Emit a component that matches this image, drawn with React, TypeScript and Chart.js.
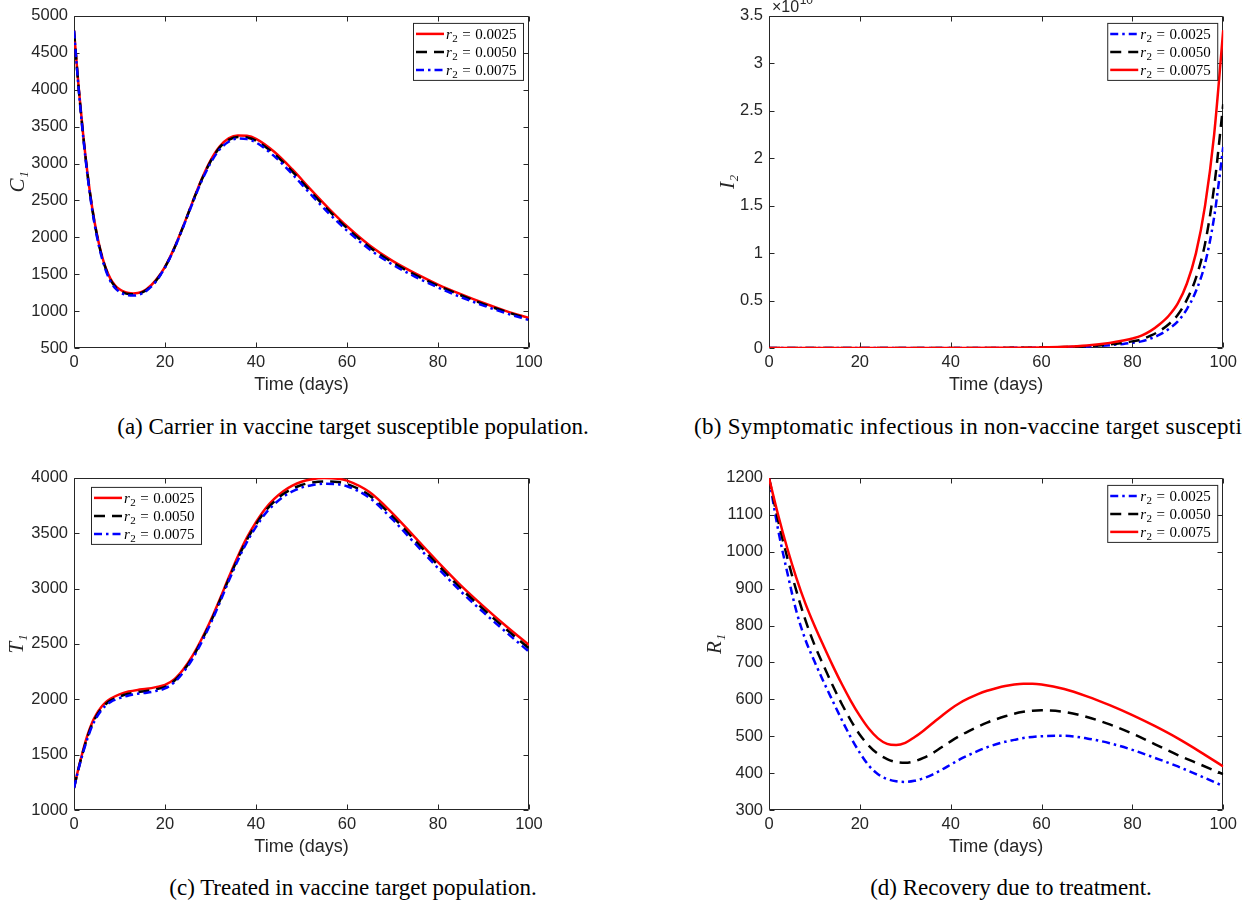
import React, { useEffect, useRef } from 'react';
import { Chart, registerables } from 'chart.js';

Chart.register(...registerables);

// ---------------- DATA ----------------
const R2_LABELS_ASC = ['r₂ = 0.0025', 'r₂ = 0.0050', 'r₂ = 0.0075'];

// (a) Carrier C1
const TIME_A = [0, 1, 2, 3, 4, 5, 6, 7, 8, 9, 10, 11, 12, 13, 14, 15, 16, 18, 20, 22, 24, 26, 28, 30, 32, 34, 36, 38, 40, 44, 48, 52, 56, 60, 65, 70, 75, 80, 85, 90, 95, 100];
const C1_R0025 = [4800, 4050, 3400, 2850, 2400, 2050, 1780, 1580, 1440, 1350, 1295, 1262, 1245, 1240, 1245, 1265, 1300, 1420, 1600, 1850, 2150, 2470, 2780, 3040, 3230, 3340, 3380, 3375, 3335, 3160, 2920, 2650, 2390, 2150, 1890, 1680, 1510, 1360, 1230, 1110, 1000, 905];
const C1_R0050 = [4800, 4040, 3390, 2840, 2390, 2040, 1770, 1570, 1425, 1335, 1280, 1248, 1232, 1228, 1233, 1253, 1290, 1410, 1595, 1845, 2145, 2465, 2770, 3025, 3215, 3320, 3360, 3352, 3310, 3130, 2890, 2620, 2360, 2125, 1865, 1660, 1490, 1345, 1215, 1095, 990, 893];
const C1_R0075 = [4800, 4030, 3370, 2820, 2370, 2020, 1750, 1550, 1405, 1315, 1260, 1228, 1213, 1210, 1217, 1240, 1278, 1400, 1590, 1840, 2140, 2455, 2755, 3005, 3190, 3295, 3338, 3330, 3285, 3100, 2855, 2585, 2325, 2090, 1835, 1630, 1465, 1320, 1190, 1075, 970, 878];
const TICKS_A = { min: 500, max: 5000, step: 500 };

// (b) Symptomatic infectious I2 (in units of 1e10)
const TIME_B = [0, 10, 20, 30, 40, 50, 55, 60, 65, 70, 75, 78, 80, 82, 84, 86, 88, 90, 92, 94, 96, 98, 100];
const I2_R0025 = [0, 0, 0, 0, 0, 0.001, 0.002, 0.004, 0.008, 0.016, 0.03, 0.043, 0.055, 0.07, 0.1, 0.14, 0.2, 0.28, 0.41, 0.6, 0.89, 1.38, 2.12];
const I2_R0050 = [0, 0, 0, 0, 0, 0.001, 0.002, 0.005, 0.01, 0.02, 0.038, 0.055, 0.07, 0.09, 0.13, 0.18, 0.25, 0.35, 0.51, 0.74, 1.1, 1.7, 2.57];
const I2_R0075 = [0, 0, 0, 0, 0.001, 0.002, 0.003, 0.006, 0.013, 0.027, 0.053, 0.078, 0.1, 0.13, 0.18, 0.25, 0.34, 0.47, 0.68, 1.0, 1.5, 2.25, 3.35];
const TICKS_B = { min: 0, max: 3.5, step: 0.5 };
const EXPONENT_B = '10';

// (c) Treated T1
const TIME_C = [0, 1, 2, 3, 4, 5, 6, 7, 8, 10, 12, 14, 16, 18, 20, 22, 24, 26, 28, 30, 32, 34, 36, 38, 40, 42, 44, 46, 48, 50, 52, 55, 58, 60, 65, 70, 75, 80, 85, 90, 95, 100];
const T1_R0025 = [1200, 1380, 1540, 1680, 1790, 1870, 1930, 1975, 2005, 2045, 2070, 2085, 2095, 2110, 2130, 2180, 2270, 2390, 2540, 2710, 2900, 3100, 3290, 3460, 3600, 3720, 3810, 3880, 3930, 3965, 3985, 3998, 3992, 3975, 3870, 3680, 3460, 3240, 3030, 2840, 2660, 2490];
const T1_R0050 = [1200, 1375, 1530, 1665, 1775, 1855, 1915, 1958, 1988, 2025, 2050, 2065, 2075, 2090, 2112, 2165, 2255, 2375, 2525, 2695, 2885, 3085, 3272, 3440, 3580, 3698, 3786, 3854, 3902, 3936, 3956, 3968, 3962, 3945, 3840, 3650, 3432, 3212, 3002, 2812, 2632, 2460];
const T1_R0075 = [1200, 1370, 1520, 1650, 1760, 1840, 1900, 1945, 1975, 2010, 2035, 2050, 2060, 2075, 2098, 2152, 2242, 2362, 2512, 2682, 2870, 3068, 3254, 3420, 3558, 3675, 3762, 3830, 3878, 3912, 3932, 3948, 3942, 3925, 3818, 3625, 3405, 3185, 2975, 2785, 2605, 2430];
const TICKS_C = { min: 1000, max: 4000, step: 500 };

// (d) Recovery R1
const TIME_D = [0, 2, 4, 6, 8, 10, 12, 14, 16, 18, 20, 22, 24, 26, 28, 30, 32, 34, 36, 38, 40, 42, 44, 46, 48, 50, 52, 54, 56, 58, 60, 65, 70, 75, 80, 85, 90, 95, 100];
const R1_R0025 = [1200, 1060, 945, 840, 762, 703, 648, 596, 545, 497, 455, 420, 397, 384, 378, 376, 379, 386, 396, 409, 423, 437, 449, 460, 470, 478, 485, 490, 495, 498, 500, 501, 494, 481, 463, 441, 418, 392, 365];
const R1_R0050 = [1200, 1085, 985, 895, 815, 748, 692, 638, 588, 543, 504, 474, 452, 438, 430, 428, 432, 441, 454, 470, 486, 501, 514, 526, 537, 546, 554, 561, 566, 569, 570, 566, 552, 532, 507, 478, 449, 423, 397];
const R1_R0075 = [1200, 1100, 1010, 930, 860, 800, 745, 692, 642, 596, 555, 520, 494, 479, 476, 482, 497, 515, 535, 555, 574, 590, 603, 614, 623, 630, 636, 640, 642, 642, 640, 628, 608, 584, 557, 527, 494, 457, 418];
const TICKS_D = { min: 300, max: 1200, step: 100 };

const X_TICKS = { min: 0, max: 100, step: 20 };

const CAPTION_A = '(a) Carrier in vaccine target susceptible population.';
const CAPTION_B = '(b) Symptomatic infectious in non-vaccine target susceptible population.';
const CAPTION_C = '(c) Treated in vaccine target population.';
const CAPTION_D = '(d) Recovery due to treatment.';
const X_TITLE = 'Time (days)';

// ---------------- STYLE ----------------
const AXIS_COLOR = '#262626';
const SANS = "'Liberation Sans', Arial, Helvetica, sans-serif";
const SERIF = "'Liberation Serif', 'Times New Roman', 'DejaVu Serif', serif";
const PANEL_H = 405;

const STYLE_RED = { borderColor: '#ff0000', borderDash: [] as number[] };
const STYLE_BLACK = { borderColor: '#000000', borderDash: [11, 7] };
const STYLE_BLUE = { borderColor: '#0000ff', borderDash: [8, 4, 2.5, 4] };

function pts(xs: number[], ys: number[]) {
  return xs.map((x, i) => ({ x, y: ys[i] }));
}

function makeDatasets(time: number[], series: number[][], styles: any[], labels: string[]) {
  return series.map((ys, i) => ({
    label: labels[i],
    data: pts(time, ys),
    borderColor: styles[i].borderColor,
    borderDash: styles[i].borderDash,
    borderWidth: 2.5,
    pointRadius: 0,
    fill: false,
    cubicInterpolationMode: 'monotone' as const,
    order: series.length - i,
  }));
}

// ---------------- PLUGIN ----------------
const matlabPlugin = {
  id: 'matlab',
  beforeDatasetsDraw(chart: any) {
    const { ctx, chartArea } = chart;
    const { left, top, right, bottom } = chartArea;
    const xs = chart.scales.x;
    const ys = chart.scales.y;
    ctx.save();
    ctx.strokeStyle = AXIS_COLOR;
    ctx.lineWidth = 1;
    ctx.setLineDash([]);
    const L = Math.round(left) + 0.5;
    const R = Math.round(right) - 0.5;
    const T = Math.round(top) + 0.5;
    const B = Math.round(bottom) - 0.5;
    ctx.beginPath();
    ctx.rect(L, T, R - L, B - T);
    ctx.stroke();
    const tl = 5;
    ctx.beginPath();
    xs.ticks.forEach((t: any) => {
      const p = Math.round(xs.getPixelForValue(t.value)) + 0.5;
      ctx.moveTo(p, B); ctx.lineTo(p, B - tl);
      ctx.moveTo(p, T); ctx.lineTo(p, T + tl);
    });
    ys.ticks.forEach((t: any) => {
      const p = Math.round(ys.getPixelForValue(t.value)) + 0.5;
      ctx.moveTo(L, p); ctx.lineTo(L + tl, p);
      ctx.moveTo(R, p); ctx.lineTo(R - tl, p);
    });
    ctx.stroke();
    ctx.restore();
  },
  afterDatasetsDraw(chart: any, _args: any, opts: any) {
    const { ctx, chartArea } = chart;
    const W = 110, H = 57;
    const bx = opts.corner === 'nw' ? chartArea.left + 17 : chartArea.right - 6 - W;
    const by = opts.corner === 'nw' ? chartArea.top + 9 : chartArea.top + 7;
    ctx.save();
    ctx.fillStyle = '#ffffff';
    ctx.fillRect(bx, by, W, H);
    ctx.strokeStyle = AXIS_COLOR;
    ctx.lineWidth = 1;
    ctx.setLineDash([]);
    ctx.strokeRect(bx + 0.5, by + 0.5, W, H);
    chart.data.datasets.forEach((ds: any, i: number) => {
      const cy = by + 11 + i * 18;
      ctx.strokeStyle = ds.borderColor;
      ctx.lineWidth = ds.borderWidth;
      ctx.setLineDash(ds.borderDash || []);
      ctx.beginPath();
      ctx.moveTo(bx + 3, cy);
      ctx.lineTo(bx + 31, cy);
      ctx.stroke();
      ctx.setLineDash([]);
      const value = String(ds.label).split('= ')[1];
      const base = cy + 5;
      let tx = bx + 33;
      ctx.fillStyle = '#000000';
      ctx.textBaseline = 'alphabetic';
      ctx.textAlign = 'left';
      ctx.font = `italic 15px ${SERIF}`;
      ctx.fillText('r', tx, base);
      tx += ctx.measureText('r').width + 0.5;
      ctx.font = `11px ${SERIF}`;
      ctx.fillText('2', tx, base + 3);
      tx += ctx.measureText('2').width + 4.5;
      ctx.font = `15px ${SERIF}`;
      ctx.fillText('=', tx, base);
      tx += ctx.measureText('=').width + 4.5;
      ctx.fillText(value, tx, base);
    });
    if (opts.exponent) {
      ctx.fillStyle = AXIS_COLOR;
      ctx.font = `16px ${SANS}`;
      ctx.textBaseline = 'alphabetic';
      const ex = chartArea.left + 3;
      const ey = chartArea.top - 4;
      ctx.fillText('×10', ex, ey);
      const w = ctx.measureText('×10').width;
      ctx.font = `12px ${SANS}`;
      ctx.fillText(opts.exponent, ex + w + 0.5, ey - 8);
    }
    ctx.restore();
  },
};

// ---------------- PANELS ----------------
type PanelCfg = {
  left: number; top: number; width: number; yAxisWidth: number; padRight: number; yTitlePad: number;
  yTitle: string; yTicks: { min: number; max: number; step: number }; datasets: any[]; corner: 'ne' | 'nw'; exponent?: string;
};

function buildConfig(cfg: PanelCfg): any {
  const tickFont = { family: SANS, size: 16.5 };
  return {
    type: 'line',
    data: { datasets: cfg.datasets },
    plugins: [matlabPlugin],
    options: {
      animation: false,
      responsive: false,
      maintainAspectRatio: false,
      devicePixelRatio: 1,
      events: [],
      layout: { padding: { left: 0, top: 14, right: cfg.padRight, bottom: 0 } },
      plugins: {
        legend: { display: false },
        tooltip: { enabled: false },
        matlab: { corner: cfg.corner, exponent: cfg.exponent },
      },
      scales: {
        x: {
          type: 'linear',
          min: X_TICKS.min,
          max: X_TICKS.max,
          grid: { display: false, drawTicks: false },
          border: { display: false },
          ticks: { stepSize: X_TICKS.step, font: tickFont, color: AXIS_COLOR, padding: 5, maxRotation: 0, autoSkip: false, callback: (v: any) => String(v) },
          title: { display: true, text: X_TITLE, font: { family: SANS, size: 18 }, color: AXIS_COLOR, padding: { top: 0, bottom: 9 } },
          afterFit: (s: any) => { s.height = PANEL_H - 348; },
        },
        y: {
          type: 'linear',
          min: cfg.yTicks.min,
          max: cfg.yTicks.max,
          grid: { display: false, drawTicks: false },
          border: { display: false },
          ticks: { stepSize: cfg.yTicks.step, font: tickFont, color: AXIS_COLOR, padding: 6, autoSkip: false, callback: (v: any) => String(v) },
          title: { display: true, text: cfg.yTitle, font: { family: SERIF, size: 21, style: 'italic' }, color: AXIS_COLOR, padding: { top: cfg.yTitlePad, bottom: 0 } },
          afterFit: (s: any) => { s.width = cfg.yAxisWidth; },
        },
      },
    },
  };
}

function Panel({ cfg }: { cfg: PanelCfg }) {
  const ref = useRef<HTMLCanvasElement>(null);
  useEffect(() => {
    const chart = new Chart(ref.current as HTMLCanvasElement, buildConfig(cfg));
    return () => chart.destroy();
  }, []);
  return (
    <canvas
      ref={ref}
      width={cfg.width}
      height={PANEL_H}
      style={{ position: 'absolute', left: cfg.left, top: cfg.top, width: cfg.width, height: PANEL_H }}
    />
  );
}

const PANEL_A: PanelCfg = {
  left: 0, top: 0, width: 560, yAxisWidth: 74, padRight: 31, yTitlePad: 5.5, yTitle: 'C₁', yTicks: TICKS_A, corner: 'ne',
  datasets: makeDatasets(TIME_A, [C1_R0025, C1_R0050, C1_R0075], [STYLE_RED, STYLE_BLACK, STYLE_BLUE], R2_LABELS_ASC),
};
const PANEL_B: PanelCfg = {
  left: 690, top: 0, width: 552, yAxisWidth: 79, padRight: 18, yTitlePad: 25.5, yTitle: 'I₂', yTicks: TICKS_B, corner: 'ne', exponent: EXPONENT_B,
  datasets: makeDatasets(TIME_B, [I2_R0025, I2_R0050, I2_R0075], [STYLE_BLUE, STYLE_BLACK, STYLE_RED], R2_LABELS_ASC),
};
const PANEL_C: PanelCfg = {
  left: 0, top: 462, width: 560, yAxisWidth: 74, padRight: 31, yTitlePad: 4.5, yTitle: 'T₁', yTicks: TICKS_C, corner: 'nw',
  datasets: makeDatasets(TIME_C, [T1_R0025, T1_R0050, T1_R0075], [STYLE_RED, STYLE_BLACK, STYLE_BLUE], R2_LABELS_ASC),
};
const PANEL_D: PanelCfg = {
  left: 690, top: 462, width: 552, yAxisWidth: 79, padRight: 18, yTitlePad: 12.5, yTitle: 'R₁', yTicks: TICKS_D, corner: 'ne',
  datasets: makeDatasets(TIME_D, [R1_R0025, R1_R0050, R1_R0075], [STYLE_BLUE, STYLE_BLACK, STYLE_RED], R2_LABELS_ASC),
};

const captionStyle: React.CSSProperties = {
  position: 'absolute',
  fontFamily: SERIF,
  fontSize: 23,
  lineHeight: '26px',
  color: '#000',
  whiteSpace: 'nowrap',
};

export default function App() {
  return (
    <div style={{ position: 'fixed', left: 0, top: 0, width: 1242, height: 905, overflow: 'hidden', background: '#fff' }}>
      <Panel cfg={PANEL_A} />
      <Panel cfg={PANEL_B} />
      <Panel cfg={PANEL_C} />
      <Panel cfg={PANEL_D} />
      <div style={{ ...captionStyle, left: 353 - 400, width: 800, textAlign: 'center', top: 427 - 13 }}>{CAPTION_A}</div>
      <div style={{ ...captionStyle, left: 694, top: 427 - 13, letterSpacing: '0.3px' }}>{CAPTION_B}</div>
      <div style={{ ...captionStyle, left: 353 - 400, width: 800, textAlign: 'center', top: 888 - 13 }}>{CAPTION_C}</div>
      <div style={{ ...captionStyle, left: 1011 - 400, width: 800, textAlign: 'center', top: 888 - 13 }}>{CAPTION_D}</div>
    </div>
  );
}
